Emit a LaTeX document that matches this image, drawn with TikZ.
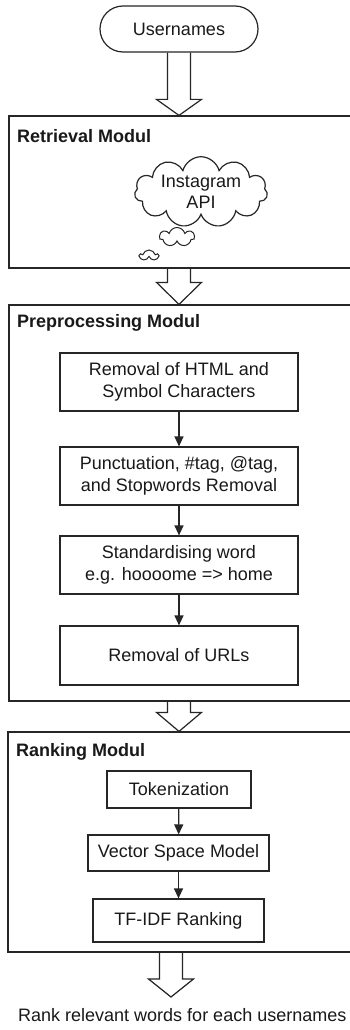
\documentclass[tikz,border=0pt]{standalone}
\usepackage{fontspec}
\setmainfont{Liberation Sans}
\usetikzlibrary{shapes.symbols,arrows.meta,calc}
\newcommand{\bigarrow}[3]{%
  \draw[blk] let \p1=(#1), \p2=(#2) in
    (\x1-11.5pt,\y1) -- (\x1-11.5pt,\y2+#3) -- (\x1-22.5pt,\y2+#3) -- (\x1,\y2)
    -- (\x1+22.5pt,\y2+#3) -- (\x1+11.5pt,\y2+#3) -- (\x1+11.5pt,\y1);}
\begin{document}
\begin{tikzpicture}[x=1pt,y=-1pt,
  every node/.style={font=\fontsize{18}{21.6}\selectfont, inner sep=0pt, text=black!90},
  line/.style={line width=1.2pt, draw=black!85},
  modul/.style={line, rectangle},
  stepbox/.style={line, rectangle, align=center},
  titletext/.style={font=\fontsize{18}{21.6}\selectfont\bfseries, anchor=west},
  flow/.style={line, -{Triangle[length=10pt,width=9pt]}},
  blk/.style={line, line join=miter},
  cloudy/.style={line, cloud, cloud ignores aspect, align=center},
]
\clip (0,0) rectangle (350,1030);
\fill[white] (0,0) rectangle (350,1030);

% start
\node[line, rectangle, rounded corners=23pt, minimum width=158pt, minimum height=46pt] (user) at (179,29) {Usernames};

% retrieval module
\node[modul, minimum width=343pt, minimum height=152pt] (ret) at (180.5,192) {};
\node[titletext] (rettitle) at (17,136) {Retrieval Modul};
\node[cloudy, cloud puffs=11, minimum width=133pt, minimum height=70pt] (api) at (201,192) {Instagram\\API};
\node[cloudy, cloud puffs=7, line width=1pt, minimum width=35pt, minimum height=19pt] (c1) at (177,237) {};
\node[cloudy, cloud puffs=5, line width=1pt, minimum width=18pt, minimum height=11pt] (c2) at (149,255.5) {};

% preprocessing module
\node[modul, minimum width=343pt, minimum height=396pt] (pre) at (180.5,503) {};
\node[titletext] (pretitle) at (17,323) {Preprocessing Modul};
\node[stepbox, minimum width=238pt, minimum height=58pt] (p1) at (179,382) {Removal of HTML and\\Symbol Characters};
\node[stepbox, minimum width=238pt, minimum height=58pt] (p2) at (179,476) {Punctuation, \#tag, @tag,\\and Stopwords Removal};
\node[stepbox, minimum width=238pt, minimum height=58pt] (p3) at (179,565) {Standardising word\\e.g. hoooome => home};
\node[stepbox, minimum width=238pt, minimum height=59pt] (p4) at (179,655.5) {Removal of URLs};

% ranking module
\node[modul, minimum width=344pt, minimum height=220pt] (rank) at (180,842) {};
\node[titletext] (ranktitle) at (16,752) {Ranking Modul};
\node[stepbox, minimum width=144pt, minimum height=37pt] (r1) at (179,789.5) {Tokenization};
\node[stepbox, minimum width=181pt, minimum height=36pt] (r2) at (178.5,853) {Vector Space Model};
\node[stepbox, minimum width=171pt, minimum height=43pt] (r3) at (178.5,920.5) {TF-IDF Ranking};

% output
\node[anchor=west] (out) at (18,1015) {Rank relevant words for each usernames};

% small arrows
\draw[flow] (p1) -- (p2);
\draw[flow] (p2) -- (p3);
\draw[flow] (p3) -- (p4);
\draw[flow] (r1) -- (r2);
\draw[flow] (r2) -- (r3);

% block arrows
\bigarrow{user.south}{ret.north}{16pt}
\bigarrow{ret.south -| p1.north}{pre.north}{22pt}
\bigarrow{pre.south -| p4.south}{rank.north}{19pt}
\coordinate (a4s) at (171,952);
\coordinate (a4e) at (171,997);
\bigarrow{a4s}{a4e}{18pt}
\end{tikzpicture}
\end{document}
